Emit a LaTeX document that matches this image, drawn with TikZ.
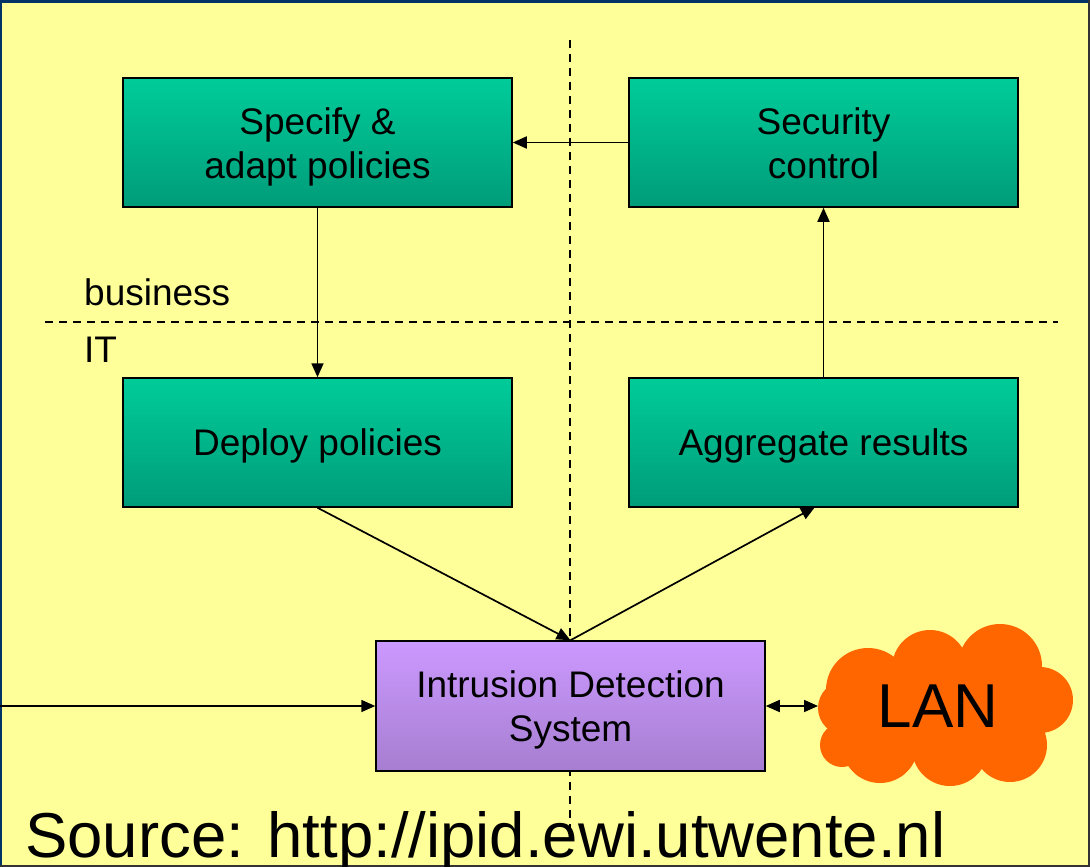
\documentclass[tikz,border=0pt]{standalone}
\usepackage{fontspec}
\setmainfont{Liberation Sans}
\usetikzlibrary{arrows.meta}
\definecolor{bg}{RGB}{255,255,153}
\definecolor{frame}{RGB}{0,51,102}
\definecolor{gtop}{RGB}{0,204,153}
\definecolor{gbot}{RGB}{0,156,122}
\definecolor{ptop}{RGB}{204,153,255}
\definecolor{pbot}{RGB}{166,126,208}
\definecolor{lan}{RGB}{255,102,0}
\tikzset{
  greenbox/.style={draw=black, line width=1.5pt, top color=gtop, bottom color=gbot, minimum width=389pt, minimum height=129pt, inner sep=0pt},
  purplebox/.style={draw=black, line width=1.5pt, top color=ptop, bottom color=pbot, minimum width=389pt, minimum height=130pt, inner sep=0pt},
  boxtext/.style={align=center, font=\fontsize{37}{44}\selectfont, inner sep=0pt},
  conn/.style={line width=1.7pt, -{Triangle[length=14pt,width=12pt]}},
  biconn/.style={line width=1.7pt, {Triangle[length=14pt,width=12pt]}-{Triangle[length=14pt,width=12pt]}},
  divider/.style={line width=1.4pt, dash pattern=on 8pt off 6pt},
  lbl/.style={font=\fontsize{37}{44}\selectfont, inner sep=0pt},
}
\begin{document}
\begin{tikzpicture}[x=1pt,y=-1pt]
\useasboundingbox (0,0) rectangle (1090,867);
\fill[bg] (0,0) rectangle (1090,867);
\draw[frame, line width=3pt] (0,1.5) -- (1090,1.5);
\draw[frame, line width=2pt] (1,0) -- (1,867);
\draw[black!80, line width=1.5pt] (1089,0) -- (1089,867);
\draw[black!80, line width=1.5pt] (0,866) -- (1090,866);
% dividers
\draw[divider] (570,40) -- (570,835);
\draw[divider] (45,322) -- (1058,322);
\node[lbl, anchor=base west] (business) at (84,305) {business};
\node[lbl, anchor=base west] (it) at (84,362) {IT};
% boxes
\node[greenbox] (spec) at (317.5,142.5) {};
\node[greenbox] (sec) at (823.5,142.5) {};
\node[greenbox] (dep) at (317.5,442.5) {};
\node[greenbox] (agg) at (823.5,442.5) {};
\node[purplebox] (ids) at (570.5,706) {};
\node[boxtext] (spect) at ([yshift=-4pt]spec.center) {Specify \&\\adapt policies};
\node[boxtext] (sect) at ([yshift=-1pt]sec.center) {Security\\control};
\node[boxtext] (dept) at ([yshift=-3pt]dep.center) {Deploy policies};
\node[boxtext] (aggt) at ([yshift=-3pt]agg.center) {Aggregate results};
\node[boxtext] (idst) at ([yshift=-4pt]ids.center) {Intrusion Detection\\System};
% cloud
\fill[lan] (868,690) circle (42) (930,668) circle (38) (1000,666) circle (42)
  (1040,700) circle (33) (1010,745) circle (37) (950,748) circle (38)
  (880,745) circle (38) (845,708) circle (27) (842,745) circle (22)
  (945,705) circle (58) (990,705) circle (50) (895,712) circle (50);
\node[font=\fontsize{62}{70}\selectfont, inner sep=0pt] (lan) at (938,706) {LAN};
\coordinate (lanedge) at (818,706);
\coordinate (leftend) at (0,706);
\coordinate (aggin) at (815,507);
% connectors
\draw[conn] (sec.west) -- (spec.east);
\draw[conn] (spec.south) -- (dep.north);
\draw[conn] (agg.north) -- (sec.south);
\draw[conn] (dep.south) -- (ids.north);
\draw[conn] (ids.north) -- (aggin);
\draw[conn] (leftend) -- (ids.west);
\draw[biconn] (ids.east) -- (lanedge);
% source
\node[font=\fontsize{63.5}{70}\selectfont, inner sep=0pt, anchor=base west] (src) at (25,857) {Source: http://ipid.ewi.utwente.nl};
\end{tikzpicture}
\end{document}
